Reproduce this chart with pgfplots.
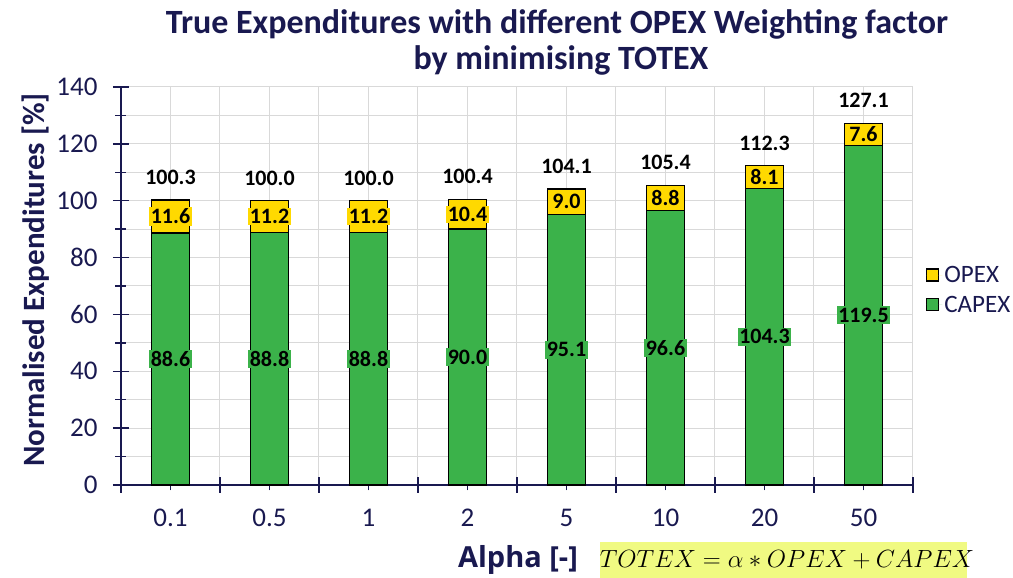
\documentclass[border=0pt]{standalone}
\usepackage{fontspec}
\setmainfont{Carlito}
\newfontfamily\labfont{Open Sans}
\usepackage{pgfplots}
\pgfplotsset{compat=1.18}
\definecolor{navy}{RGB}{25,25,80}
\definecolor{opexc}{RGB}{255,217,0}
\definecolor{capexc}{RGB}{59,178,74}
\definecolor{gridc}{RGB}{217,217,217}
\definecolor{formc}{RGB}{240,250,130}
\begin{document}
\begin{tikzpicture}
\path[use as bounding box] (-121pt,-93pt) rectangle (892pt,485pt);
\begin{axis}[
  at={(0pt,0pt)}, anchor=south west,
  scale only axis, width=792pt, height=398pt,
  xmin=-0.5, xmax=7.5, ymin=0, ymax=140,
  axis lines=left, axis line style={-, navy, line width=1.3pt},
  xtick={-0.5,0.5,...,7.5}, xticklabels={},
  extra x ticks={0,1,2,3,4,5,6,7},
  extra x tick labels={0.1,0.5,1,2,5,10,20,50},
  extra x tick style={major tick length=11pt, grid=major},
  ytick={0,20,...,140}, minor ytick={10,30,...,130},
  grid=both, grid style={gridc, line width=1pt},
  major grid style={gridc, line width=1pt},
  minor grid style={gridc, line width=1pt},
  tick align=center, major tick length=16pt, minor tick length=11pt,
  tick style={navy, line width=1.3pt},
  /pgf/number format/assume math mode=true,
  ticklabel style={font=\fontsize{27}{30}\selectfont, text=navy},
  xticklabel style={yshift=-15pt},
  yticklabel style={xshift=-12pt},
  ylabel={Normalised Expenditures [\%]},
  ylabel style={font=\bfseries\fontsize{31}{34}\selectfont, text=navy},
  every axis y label/.append style={at={(axis description cs:-0.108,0.515)}, anchor=center, rotate=0},
  legend style={at={(axis description cs:1.012,0.49)}, anchor=west, draw=none, fill=none,
    font=\fontsize{25}{28}\selectfont, text=navy, row sep=8pt},
  legend image code/.code={\draw[#1, draw=black, line width=1.3pt] (0pt,-6pt) rectangle (12pt,6pt); \path[draw=none] (0pt,0pt) -- (16pt,0pt);},
  legend cell align=left,
  clip=false,
]
\addplot[ybar, bar width=38pt, bar shift=0pt, fill=opexc, draw=black, line width=1.3pt]
  coordinates {(0,100.3) (1,100.0) (2,100.0) (3,100.4) (4,104.1) (5,105.4) (6,112.3) (7,127.1)};
\addlegendentry{OPEX}
\addplot[ybar, bar width=38pt, bar shift=0pt, fill=capexc, draw=black, line width=1.3pt]
  coordinates {(0,88.6) (1,88.8) (2,88.8) (3,90.0) (4,95.1) (5,96.6) (6,104.3) (7,119.5)};
\addlegendentry{CAPEX}
% total labels
\addplot[draw=none, mark=none, forget plot, nodes near coords={\pgfplotspointmeta}, point meta=explicit symbolic,
  every node near coord/.style={anchor=south, yshift=12pt, font=\bfseries\fontsize{22}{24}\selectfont, text=black}]
  coordinates {(0,100.3)[100.3] (1,100.0)[100.0] (2,100.0)[100.0] (3,100.4)[100.4] (4,104.1)[104.1] (5,105.4)[105.4] (6,112.3)[112.3] (7,127.1)[127.1]};
% opex labels
\addplot[draw=none, mark=none, forget plot, nodes near coords={\pgfplotspointmeta}, point meta=explicit symbolic,
  every node near coord/.style={anchor=center, fill=opexc, inner sep=1.5pt, font=\bfseries\fontsize{22}{24}\selectfont, text=black}]
  coordinates {(0,94.45)[11.6] (1,94.4)[11.2] (2,94.4)[11.2] (3,95.2)[10.4] (4,99.6)[9.0] (5,101.0)[8.8] (6,108.3)[8.1] (7,123.3)[7.6]};
% capex labels
\addplot[draw=none, mark=none, forget plot, nodes near coords={\pgfplotspointmeta}, point meta=explicit symbolic,
  every node near coord/.style={anchor=center, fill=capexc, inner sep=1.5pt, font=\bfseries\fontsize{22}{24}\selectfont, text=black}]
  coordinates {(0,44.3)[88.6] (1,44.4)[88.8] (2,44.4)[88.8] (3,45.0)[90.0] (4,47.55)[95.1] (5,48.3)[96.6] (6,52.15)[104.3] (7,59.75)[119.5]};
\end{axis}
\node[text=navy, font=\bfseries\fontsize{34}{38}\selectfont] at (436pt,461pt) {True Expenditures with different OPEX Weighting factor};
\node[text=navy, font=\bfseries\fontsize{34}{38}\selectfont] at (440pt,425pt) {by minimising TOTEX};
\node[text=navy, font=\labfont\bfseries\fontsize{29}{32}\selectfont] at (397pt,-75pt) {Alpha [-]};
\node[fill=formc, inner sep=0pt, minimum width=367pt, minimum height=36pt, anchor=south west] at (479pt,-93pt) {};
\node[font=\fontsize{23}{27}\selectfont] at (666pt,-75pt) {$TOTEX=\alpha*OPEX+CAPEX$};
\end{tikzpicture}
\end{document}
